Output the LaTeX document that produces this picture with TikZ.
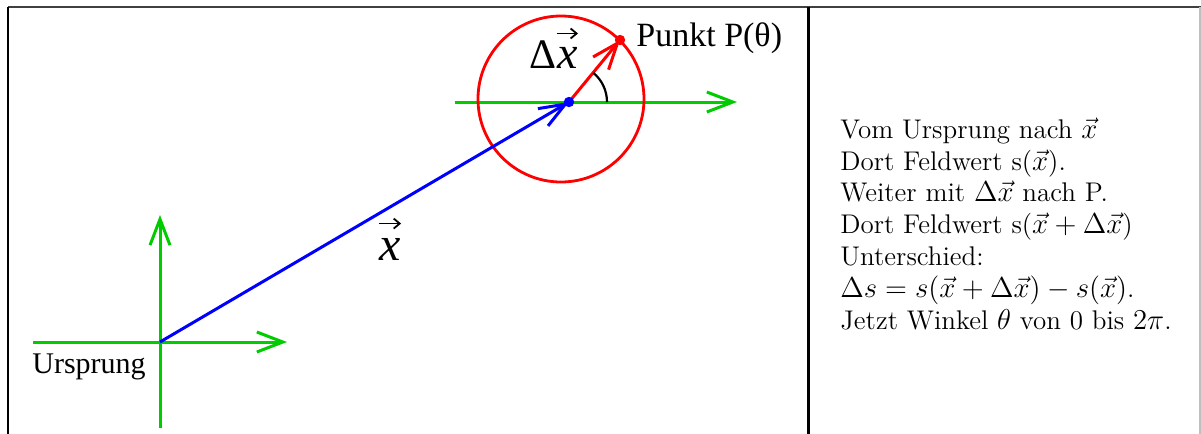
\documentclass[tikz,border=0pt]{standalone}
\usepackage{fontspec}
\newfontfamily\timesf{Liberation Serif}
\usetikzlibrary{arrows.meta}
\definecolor{axgreen}{RGB}{0,204,0}
\definecolor{vblue}{RGB}{0,0,255}
\definecolor{vred}{RGB}{255,0,0}
\tikzset{
  axisline/.style={draw=axgreen, line width=1.5pt, -{Straight Barb[length=13pt,width=10pt]}},
  vecline/.style={line width=1.5pt, -{Straight Barb[length=13pt,width=10pt]}},
  frameline/.style={draw=black, line width=1pt},
  labelfont/.style={inner sep=0pt, font=\timesf\fontsize{#1}{#1}\selectfont},
  vecarrow/.style={line width=0.9pt, -{Straight Barb[length=3pt,width=5pt]}},
}
\begin{document}
\begin{tikzpicture}[x=0.5pt,y=-0.5pt]
\useasboundingbox (0,0) rectangle (1201,434);
\fill[white] (0,0) rectangle (1201,434);
% table frame
\coordinate (tl) at (8,7);
\coordinate (tr) at (1201,7);
\coordinate (bl) at (8,434);
\coordinate (mt) at (808,7);
\coordinate (mb) at (808,434);
\coordinate (rt) at (1200,7);
\coordinate (rb) at (1200,434);
\draw[frameline, draw=black!75] (tl) -- (tr);
\draw[frameline] (tl) -- (bl);
\draw[frameline, line width=1.5pt] (mt) -- (mb);
\draw[draw=black!25, line width=0.8pt] (rt) -- (rb);
% key points
\coordinate (O) at (160,342);
\coordinate (C) at (569,102);
\coordinate (P) at (620,40);
\coordinate (M) at (561,99);
\coordinate (xl) at (33,342);
\coordinate (xr) at (287,342);
\coordinate (yb) at (160,428);
\coordinate (yt) at (160,215);
\coordinate (hl) at (455,102);
\coordinate (hr) at (737,102);
% axes
\draw[axisline] (xl) -- (xr);
\draw[axisline] (yb) -- (yt);
\draw[axisline] (hl) -- (hr);
% circle
\draw[draw=vred, line width=1.4pt] (M) circle[radius=41.5pt];
% vectors
\draw[vecline, draw=vblue] (O) -- (C);
\draw[vecline, draw=vred] (C) -- (P);
\fill[vblue] (C) circle[radius=2.6pt];
\fill[vred] (P) circle[radius=2.6pt];
% angle arc
\draw[line width=1.1pt] ([shift={(0:19pt)}]C) arc[start angle=0, end angle=50, radius=19pt];
% labels
\node[labelfont=17, anchor=base west] (pl) at (636,46) {Punkt P(θ)};
\node[labelfont=15, anchor=base west] (ul) at (32,373) {Ursprung};
\node[labelfont=24, anchor=base west] (xv) at (379,260) {\itshape x};
\draw[vecarrow] ([yshift=7pt]xv.north west) -- ([yshift=7pt]xv.north east);
\node[labelfont=21, anchor=base west] (dl) at (529,68) {Δ};
\node[labelfont=23, anchor=base west] (dx) at (dl.base east) {\itshape x};
\draw[vecarrow] ([yshift=6.5pt]dx.north west) -- ([yshift=6.5pt]dx.north east);
% explanation text (base anchor = baseline of the last line)
\node[inner sep=0pt, anchor=base west, align=left, font=\fontsize{13.5}{15.9}\selectfont] (txt) at (840,329) {%
Vom Ursprung nach $\vec x$\\
Dort Feldwert s($\vec x$).\\
Weiter mit $\Delta\vec x$ nach P.\\
Dort Feldwert s($\vec x+\Delta\vec x$)\\
Unterschied:\\
$\Delta s=s(\vec x+\Delta\vec x)-s(\vec x)$.\\
Jetzt Winkel $\theta$ von 0 bis $2\pi$.};
\end{tikzpicture}
\end{document}
